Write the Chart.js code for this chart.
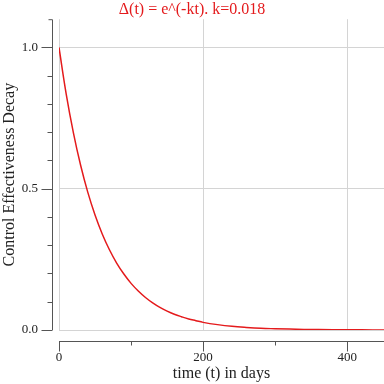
<!DOCTYPE html>
<html>
<head>
<meta charset="utf-8">
<script src="https://cdn.jsdelivr.net/npm/chart.js@4"></script>
<style>
  html, body { margin: 0; padding: 0; background: #fff; }
  #wrap { width: 384px; height: 384px; }
</style>
</head>
<body>
<div id="wrap"><canvas id="decayChart"></canvas></div>
<script>
// values
const days = [0, 10, 20, 30, 40, 50, 60, 70, 80, 90, 100, 110, 120, 130, 140, 150,
  160, 170, 180, 190, 200, 220, 240, 260, 280, 300, 340, 380, 420, 451]
const decay = [1.0, 0.835, 0.698, 0.583, 0.487, 0.407, 0.340, 0.284, 0.237, 0.198, 0.165,
  0.138, 0.115, 0.096, 0.080, 0.067, 0.056, 0.047, 0.039, 0.033, 0.027, 0.019, 0.013,
  0.009, 0.006, 0.0045, 0.002, 0.001, 0.0005, 0.0003]

const xLabels = [0, 200, 400]
const xMinor = [100, 300]
const yLabels = [0, 0.5, 1.0]
const yMinor = [0.1, 0.2, 0.3, 0.4, 0.6, 0.7, 0.8, 0.9]

const red = "#e41a1c"
const axisColor = "#555"
const gridColor = "#d4d4d4"
const serif = "'Liberation Serif', 'Times New Roman', serif"

const isIn = (arr, v) => arr.some(a => Math.abs(a - v) < 1e-6)

// axis lines drawn a few px away from the plot area
const detachedAxes = {
    id: 'detachedAxes',
    afterDraw(chart) {
        const c = chart.ctx
        const xs = chart.scales.x
        const ys = chart.scales.y
        const ax = 52.5
        const ay = 341.5
        c.save()
        c.strokeStyle = axisColor
        c.lineWidth = 1
        c.beginPath()
        // y axis
        c.moveTo(ax - 4, ys.top + 0.5)
        c.lineTo(ax, ys.top + 0.5)
        c.lineTo(ax, ys.getPixelForValue(0))
        yLabels.forEach(v => {
            const p = Math.round(ys.getPixelForValue(v)) + 0.5
            c.moveTo(ax - 11, p); c.lineTo(ax, p)
        })
        yMinor.forEach(v => {
            const p = Math.round(ys.getPixelForValue(v)) + 0.5
            c.moveTo(ax - 5, p); c.lineTo(ax, p)
        })
        // x axis
        c.moveTo(xs.getPixelForValue(0), ay)
        c.lineTo(chart.width, ay)
        xLabels.forEach(v => {
            const p = Math.round(xs.getPixelForValue(v)) + 0.5
            c.moveTo(p, ay); c.lineTo(p, ay + 10)
        })
        xMinor.forEach(v => {
            const p = Math.round(xs.getPixelForValue(v)) + 0.5
            c.moveTo(p, ay); c.lineTo(p, ay + 4)
        })
        c.stroke()
        c.restore()
    }
}

const ctx = document.getElementById('decayChart')
const decayChart = new Chart(ctx, {
    type: 'line',
    data: {
        labels: days,
        datasets: [{
            label: "decay",
            data: days.map((d, i) => ({ x: d, y: decay[i] })),
            borderColor: red,
            borderWidth: 1.5,
            pointRadius: 0,
            tension: 0.4,
            fill: false,
        }]
    },
    options: {
        responsive: true,
        maintainAspectRatio: false,
        animation: false,
        layout: { padding: 0 },
        plugins: {
            legend: { display: false },
            tooltip: { enabled: false },
            title: {
                display: true,
                text: "Δ(t) = e^(-kt). k=0.018",
                color: red,
                font: { family: serif, size: 16, weight: 'normal' },
                padding: { top: 0, bottom: 0 },
            }
        },
        scales: {
            x: {
                type: 'linear',
                min: 0,
                max: 451,
                afterBuildTicks: s => { s.ticks = [0, 100, 200, 300, 400].map(v => ({ value: v })) },
                afterFit: s => {
                    s.height = 54
                    s.paddingLeft = 0
                    s.paddingRight = 0
                },
                ticks: {
                    color: "#222",
                    font: { family: serif, size: 13 },
                    padding: 20,
                    maxRotation: 0,
                    autoSkip: false,
                    callback: v => isIn(xLabels, v) ? String(v) : '',
                },
                grid: {
                    drawTicks: false,
                    color: c => isIn(xLabels, c.tick.value) ? gridColor : 'rgba(0,0,0,0)',
                },
                border: { display: false },
                title: {
                    display: true,
                    text: "time (t) in days",
                    color: "#222",
                    font: { family: serif, size: 16 },
                    padding: { top: 0, bottom: 1 },
                },
            },
            y: {
                type: 'linear',
                min: 0,
                max: 1.1,
                afterBuildTicks: s => { s.ticks = yLabels.map(v => ({ value: v })) },
                afterFit: s => {
                    s.width = 59
                    s.paddingTop = 0
                    s.paddingBottom = 0
                },
                ticks: {
                    color: "#222",
                    font: { family: serif, size: 13 },
                    padding: 21,
                    callback: v => v.toFixed(1),
                },
                grid: {
                    drawTicks: false,
                    color: gridColor,
                },
                border: { display: false },
                title: {
                    display: true,
                    text: "Control Effectiveness Decay",
                    color: "#222",
                    font: { family: serif, size: 16 },
                    padding: { top: 0, bottom: 0 },
                },
            }
        }
    },
    plugins: [detachedAxes]
})
</script>
</body>
</html>
